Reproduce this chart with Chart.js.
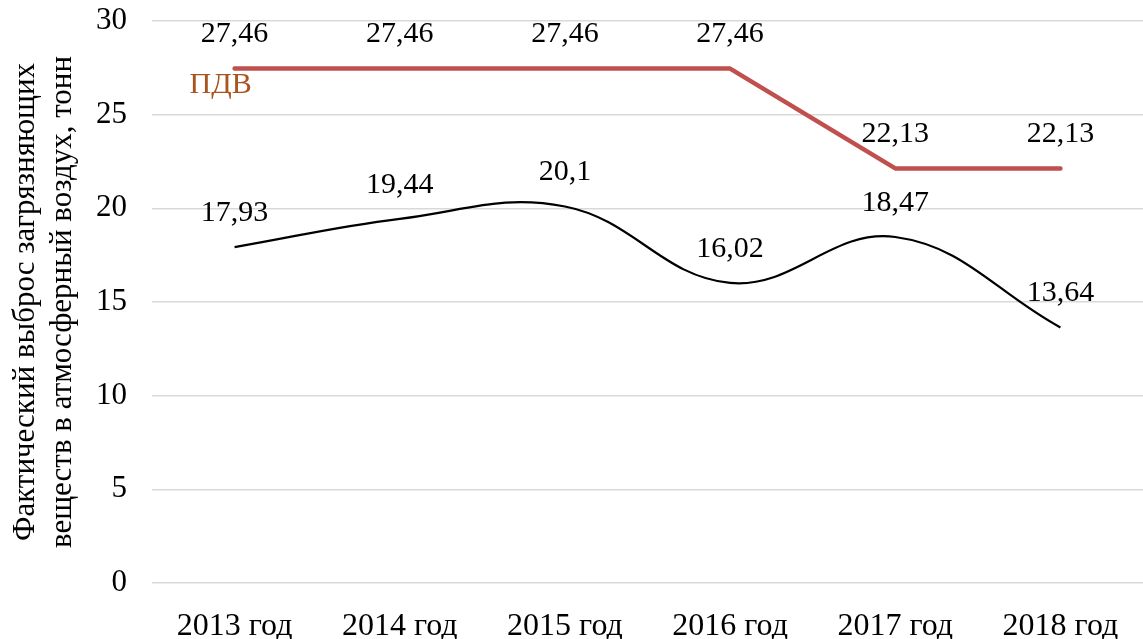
<!DOCTYPE html>
<html>
<head>
<meta charset="utf-8">
<script src="https://cdn.jsdelivr.net/npm/chart.js@4.4.1/dist/chart.umd.min.js"></script>
<style>
  html, body { margin: 0; padding: 0; background: #fff; }
  canvas { display: block; }
</style>
</head>
<body>
<canvas id="chart" width="1143" height="639"></canvas>
<script>
const years = ["2013 год", "2014 год", "2015 год", "2016 год", "2017 год", "2018 год"];
const pdvValues = [27.46, 27.46, 27.46, 27.46, 22.13, 22.13];
const actualValues = [17.93, 19.44, 20.1, 16.02, 18.47, 13.64];
const yTicks = [0, 5, 10, 15, 20, 25, 30];

const FONT = "'Liberation Serif', 'Times New Roman', serif";

// "27.46" -> "27,46"
const fmt = (v) => String(v).replace(".", ",");

// value labels above each point + series name for ПДВ
const valueLabels = {
  id: "valueLabels",
  afterDatasetsDraw(chart) {
    const ctx = chart.ctx;
    ctx.save();
    ctx.font = "30px " + FONT;
    ctx.textAlign = "center";
    ctx.textBaseline = "middle";
    chart.data.datasets.forEach((ds, i) => {
      const meta = chart.getDatasetMeta(i);
      meta.data.forEach((pt, j) => {
        ctx.fillStyle = "#000";
        ctx.fillText(fmt(ds.data[j]), pt.x, pt.y - 34);
      });
      if (ds.label === "ПДВ") {
        const first = meta.data[0];
        ctx.fillStyle = "#a9531f";
        ctx.fillText(ds.label, first.x - 14, first.y + 17);
      }
    });
    ctx.restore();
  },
};

new Chart(document.getElementById("chart"), {
  type: "line",
  data: {
    labels: years,
    datasets: [
      {
        label: "ПДВ",
        data: pdvValues,
        borderColor: "#c0504d",
        borderWidth: 4.5,
        borderCapStyle: "round",
        borderJoinStyle: "round",
        pointRadius: 0,
        tension: 0,
      },
      {
        label: "Фактический выброс",
        data: actualValues,
        borderColor: "#000",
        borderWidth: 2.2,
        pointRadius: 0,
        tension: 0.4,
      },
    ],
  },
  options: {
    responsive: false,
    animation: false,
    layout: { padding: { top: 21, right: 0, left: 0, bottom: 0 } },
    plugins: {
      legend: { display: false },
      tooltip: { enabled: false },
    },
    scales: {
      x: {
        offset: true,
        grid: { display: false, offset: true },
        border: { display: false },
        ticks: {
          color: "#000",
          font: { family: FONT, size: 32 },
          padding: 16,
          maxRotation: 0,
        },
        afterFit: (scale) => { scale.height = 56; },
      },
      y: {
        min: 0,
        max: 30,
        afterBuildTicks: (scale) => {
          scale.ticks = yTicks.map((v) => ({ value: v }));
        },
        grid: { color: "#d9d9d9", lineWidth: 1.5, drawTicks: false },
        border: { display: false },
        ticks: {
          color: "#000",
          font: { family: FONT, size: 31 },
          padding: 25,
        },
        title: {
          display: true,
          text: ["Фактический выброс загрязняющих", "веществ в атмосферный воздух, тонн"],
          color: "#000",
          font: { family: FONT, size: 31, lineHeight: 1.17 },
          padding: { top: 8, bottom: 0 },
        },
        afterFit: (scale) => {
          scale.width = 152;
          scale.paddingTop = 0;
          scale.paddingBottom = 0;
        },
      },
    },
  },
  plugins: [valueLabels],
});
</script>
</body>
</html>
